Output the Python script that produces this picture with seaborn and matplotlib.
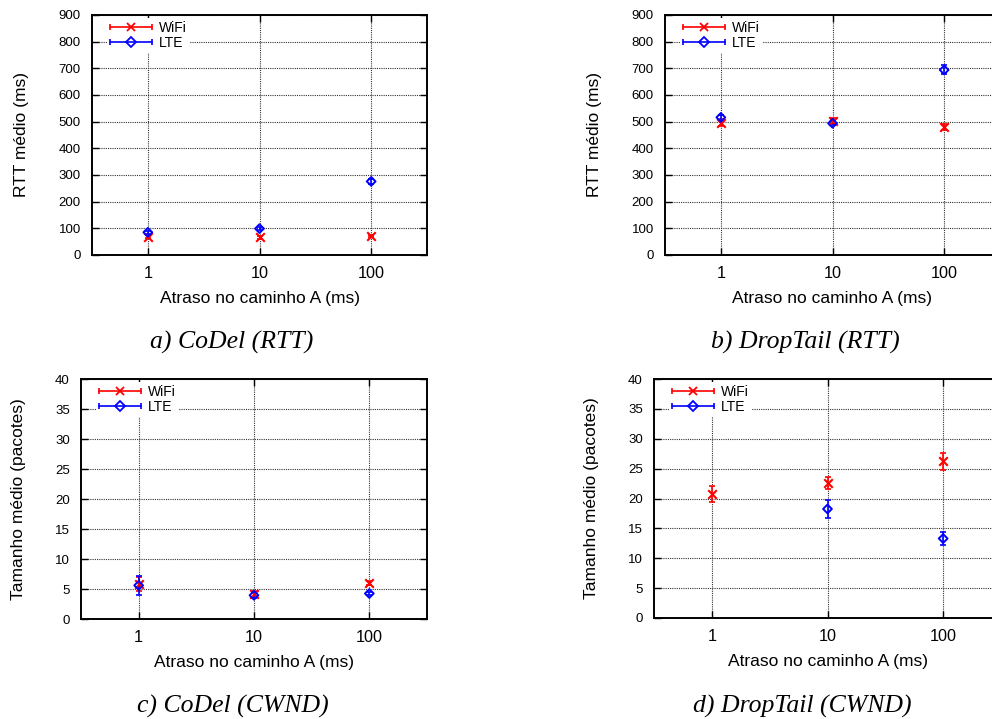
import numpy as np
import matplotlib

matplotlib.use("Agg")

import matplotlib.pyplot as plt
import seaborn as sns
from matplotlib.legend_handler import HandlerLine2D
from matplotlib.lines import Line2D
from matplotlib.ticker import FixedLocator, FixedFormatter, NullLocator, MultipleLocator

# data
delays = [1, 10, 100]
delay_labels = ["1", "10", "100"]

rtt_codel_wifi = [69, 66, 71]
rtt_codel_wifi_err = [5, 5, 5]
rtt_codel_lte = [85, 99, 276]
rtt_codel_lte_err = [6, 6, 8]

rtt_drop_wifi = [496, 502, 481]
rtt_drop_wifi_err = [14, 10, 11]
rtt_drop_lte = [516, 494, 694]
rtt_drop_lte_err = [10, 8, 17]

cwnd_codel_wifi = [5.8, 4.1, 6.0]
cwnd_codel_wifi_err = [1.2, 0.5, 0.3]
cwnd_codel_lte = [5.6, 3.95, 4.25]
cwnd_codel_lte_err = [1.6, 0.5, 0.3]

cwnd_drop_wifi = [20.75, 22.6, 26.2]
cwnd_drop_wifi_err = [1.3, 0.95, 1.45]
cwnd_drop_lte = [np.nan, 18.25, 13.3]
cwnd_drop_lte_err = [np.nan, 1.55, 1.15]

captions = ["a) CoDel (RTT)", "b) DropTail (RTT)", "c) CoDel (CWND)", "d) DropTail (CWND)"]

sns.set_theme(style="ticks", rc={
    "text.color": "black",
    "axes.labelcolor": "black",
    "xtick.color": "black",
    "ytick.color": "black",
    "axes.edgecolor": "black",
})
plt.rcParams["font.family"] = ["Liberation Sans", "DejaVu Sans"]

W, H = 992, 719
fig = plt.figure(figsize=(W / 100, H / 100), dpi=100)


def px_axes(left, top, right, bottom):
    return fig.add_axes([left / W, 1 - bottom / H, (right - left) / W, (bottom - top) / H])


panels = [
    dict(box=(92, 15, 427, 255), wifi=(rtt_codel_wifi, rtt_codel_wifi_err),
         lte=(rtt_codel_lte, rtt_codel_lte_err), ylim=900, step=100, ylabel="RTT médio (ms)"),
    dict(box=(665, 15, 1000, 255), wifi=(rtt_drop_wifi, rtt_drop_wifi_err),
         lte=(rtt_drop_lte, rtt_drop_lte_err), ylim=900, step=100, ylabel="RTT médio (ms)"),
    dict(box=(81, 379, 427, 619), wifi=(cwnd_codel_wifi, cwnd_codel_wifi_err),
         lte=(cwnd_codel_lte, cwnd_codel_lte_err), ylim=40, step=5, ylabel="Tamanho médio (pacotes)"),
    dict(box=(654, 379, 1001, 618), wifi=(cwnd_drop_wifi, cwnd_drop_wifi_err),
         lte=(cwnd_drop_lte, cwnd_drop_lte_err), ylim=40, step=5, ylabel="Tamanho médio (pacotes)"),
]

caption_pos = [(232, 342), (805, 342), (233, 706), (802, 706)]


def legend_handle(color, marker, mfc):
    caps = Line2D([], [], color=color, lw=1.2, marker="|", markersize=5, markeredgewidth=1.2)
    center = Line2D([], [], color=color, ls="none", marker=marker, markersize=5.5,
                    markerfacecolor=mfc, markeredgewidth=1.3)
    return caps, center


for p in panels:
    ax = px_axes(*p["box"])
    ax.set_xscale("log")
    ax.set_xlim(10 ** -0.5, 10 ** 2.5)
    ax.set_ylim(0, p["ylim"])

    wy, we = p["wifi"]
    ly, le = p["lte"]
    ax.errorbar(delays, wy, yerr=we, fmt="none", ecolor="red", elinewidth=1.2, capsize=2,
                capthick=1.2, zorder=3)
    ax.errorbar(delays, ly, yerr=le, fmt="none", ecolor="blue", elinewidth=1.2, capsize=2,
                capthick=1.2, zorder=3)
    sns.scatterplot(x=delays, y=wy, ax=ax, marker="x", color="red", s=38, linewidth=1.5, zorder=4)
    sns.scatterplot(x=delays, y=ly, ax=ax, marker="D", color="blue", s=20, linewidth=1.4, zorder=5)
    ax.collections[-1].set_facecolor("none")
    ax.collections[-1].set_edgecolor("blue")

    ax.xaxis.set_major_locator(FixedLocator(delays))
    ax.xaxis.set_major_formatter(FixedFormatter(delay_labels))
    ax.xaxis.set_minor_locator(NullLocator())
    ax.yaxis.set_major_locator(MultipleLocator(p["step"]))

    ax.grid(True, which="major", color="#333333", linestyle=(0, (1, 1)), linewidth=0.8)
    ax.set_axisbelow(True)
    for s in ax.spines.values():
        s.set_linewidth(1.4)
        s.set_color("black")
    ax.tick_params(direction="in", length=5, width=1, top=True, right=True, color="black")
    ax.tick_params(axis="x", labelsize=11.7, pad=8)
    ax.tick_params(axis="y", labelsize=9.5, pad=8)

    ax.set_xlabel("Atraso no caminho A (ms)", fontsize=12.5, labelpad=7)
    ax.set_ylabel(p["ylabel"], fontsize=12.5, labelpad=21)

    hw = legend_handle("red", "x", "red")
    hl = legend_handle("blue", "D", "none")
    hmap = {
        hw[0]: HandlerLine2D(numpoints=2, marker_pad=0),
        hl[0]: HandlerLine2D(numpoints=2, marker_pad=0),
        hw[1]: HandlerLine2D(numpoints=1),
        hl[1]: HandlerLine2D(numpoints=1),
    }
    leg = ax.legend([hw, hl], ["WiFi", "LTE"], loc="upper left", bbox_to_anchor=(0.035, 1.0),
                    fontsize=10, handlelength=3.0, handletextpad=0.5, labelspacing=0.05,
                    borderpad=0.25, borderaxespad=0.2, frameon=True, fancybox=False,
                    handler_map=hmap)
    leg.get_frame().set_facecolor("white")
    leg.get_frame().set_edgecolor("none")
    leg.get_frame().set_alpha(1)

for text, (cx, cy) in zip(captions, caption_pos):
    fig.text(cx / W, 1 - cy / H, text, ha="center", va="center", fontsize=18.5,
             fontstyle="italic", family=["Liberation Serif", "DejaVu Serif"])

fig.savefig("out.png", dpi=100)
